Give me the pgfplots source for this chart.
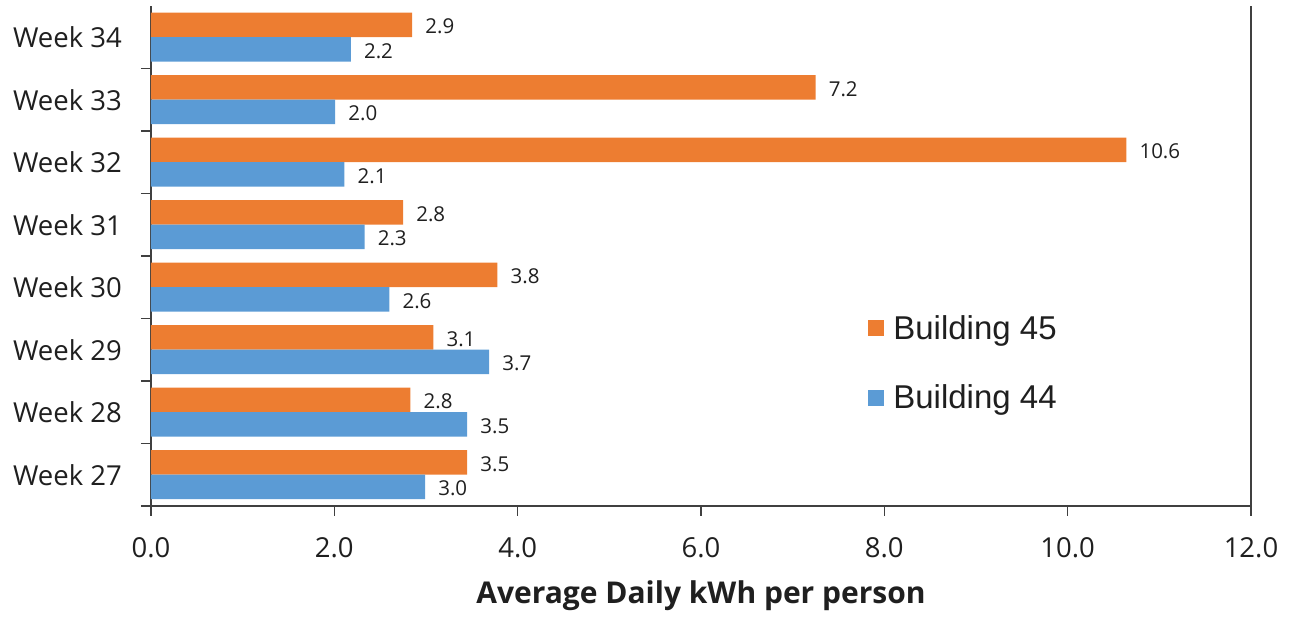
\documentclass[border=0pt]{standalone}
\usepackage{pgfplots}
\pgfplotsset{compat=1.18}
\usepackage{pgfplotstable}
\usepackage{fontspec}
\setmainfont{Open Sans}
\newfontfamily\legfont{Liberation Sans}
\definecolor{orng}{HTML}{ED7D31}
\definecolor{blu}{HTML}{5B9BD5}
\definecolor{axc}{HTML}{404040}
\definecolor{txt}{HTML}{1F1F1F}

\pgfplotstableread{
w o b ol bl
27 3.45 2.99 3.5 3.0
28 2.83 3.45 2.8 3.5
29 3.08 3.69 3.1 3.7
30 3.78 2.60 3.8 2.6
31 2.75 2.33 2.8 2.3
32 10.64 2.11 10.6 2.1
33 7.25 2.01 7.2 2.0
34 2.85 2.18 2.9 2.2
}\data

\begin{document}
\begin{tikzpicture}
\path[use as bounding box] (-151pt,-111pt) rectangle (1142pt,506pt);
\begin{axis}[
  scale only axis, width=1100pt, height=500pt,
  xmin=0, xmax=12, ymin=26.5, ymax=34.5,
  xbar, bar width=24.5pt,
  axis x line=bottom, axis y line=box,
  axis line style={-, draw=axc, line width=1.5pt},
  tick align=outside,
  major tick length=10pt, minor tick length=10pt,
  tick style={draw=axc, line width=1.5pt},
  xtick={0,2,...,12}, xtick pos=bottom,
  ytick={27,...,34}, ytick pos=left,
  yticklabels={Week 27,Week 28,Week 29,Week 30,Week 31,Week 32,Week 33,Week 34},
  minor ytick={26.5,27.5,...,33.5},
  every major y tick/.append style={draw=none},
  tick label style={font=\fontsize{27.5}{33}\selectfont, text=txt},
  xticklabel style={/pgf/number format/fixed, /pgf/number format/fixed zerofill,
    /pgf/number format/precision=1, /pgf/number format/assume math mode=true,
    inner sep=0pt, yshift=-21pt},
  yticklabel style={inner sep=0pt, xshift=-19pt},
  xlabel={Average Daily kWh per person},
  xlabel style={at={(axis description cs:0.5,0)}, anchor=base, yshift=-98pt,
    font=\bfseries\fontsize{30}{36}\selectfont, text=txt},
  nodes near coords,
  nodes near coords align=horizontal,
  every node near coord/.append style={font=\fontsize{20.5}{25}\selectfont, text=txt,
    anchor=west, inner sep=0pt, xshift=13pt, yshift=-1.5pt},
  legend cell align=left,
  legend style={draw=none, fill=none, at={(rel axis cs:0.652,0.286)}, anchor=west,
    inner sep=0pt, row sep=44pt, font=\legfont\fontsize{33}{39}\selectfont,
    nodes={inner sep=0pt, text=txt},
    /tikz/every odd column/.append style={column sep=9pt}},
]
\addplot[fill=orng, draw=none, bar shift=12.25pt, point meta=explicit symbolic,
  legend image code/.code={\fill[orng] (0pt,-8pt) rectangle (16pt,8pt);}]
  table[x=o, y=w, meta=ol] {\data};
\addlegendentry{Building 45}
\addplot[fill=blu, draw=none, bar shift=-12.25pt, point meta=explicit symbolic,
  legend image code/.code={\fill[blu] (0pt,-8pt) rectangle (16pt,8pt);}]
  table[x=b, y=w, meta=bl] {\data};
\addlegendentry{Building 44}
\end{axis}
\end{tikzpicture}
\end{document}
